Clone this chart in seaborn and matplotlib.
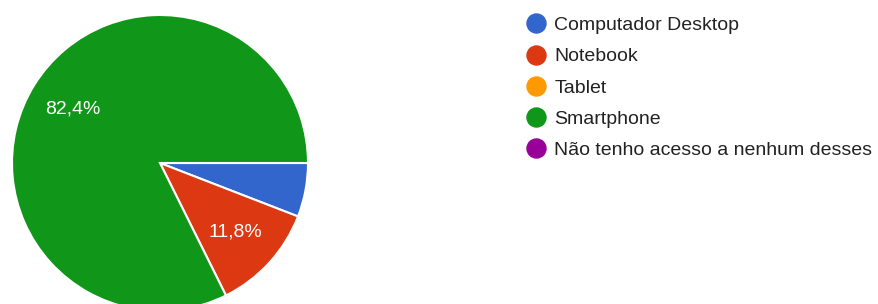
import matplotlib
matplotlib.use("Agg")
import matplotlib.pyplot as plt
import seaborn as sns
from matplotlib.lines import Line2D

categories = ["Computador Desktop", "Notebook", "Tablet", "Smartphone",
              "Não tenho acesso a nenhum desses"]
responses = [1, 2, 0, 14, 0]
colors = ["#3366cc", "#dc3912", "#ff9900", "#109618", "#990099"]

sns.set_theme(style="white")
plt.rcParams["font.family"] = ["Liberation Sans", "DejaVu Sans"]

W, H = 879, 304
fig = plt.figure(figsize=(W / 100, H / 100), dpi=100)

# pie: centre (160, 163) px, radius 148 px
cx, cy, r = 160, 163, 148
ax = fig.add_axes([(cx - r) / W, (H - cy - r) / H, 2 * r / W, 2 * r / H])

vals = [v for v in responses if v > 0]
cols = [c for v, c in zip(responses, colors) if v > 0]


def fmt(pct):
    if pct < 10:
        return ""
    return f"{pct:.1f}".replace(".", ",") + "%"


wedges, texts, autotexts = ax.pie(
    vals, colors=cols, startangle=0, counterclock=False,
    autopct=fmt, pctdistance=0.69, radius=1,
    wedgeprops=dict(edgecolor="white", linewidth=1.5),
    textprops=dict(color="white", fontsize=14),
)
ax.set_xlim(-1, 1)
ax.set_ylim(-1, 1)
ax.set_aspect("equal")
ax.axis("off")

handles = [Line2D([], [], marker="o", linestyle="", markersize=13.7,
                  markerfacecolor=c, markeredgecolor=c) for c in colors]
fig.legend(handles, categories, loc="upper left",
           bbox_to_anchor=(526.3 / W, 1 - 16.5 / H), frameon=False,
           fontsize=14, borderpad=0, borderaxespad=0, handlelength=1.0,
           handletextpad=0.45, labelspacing=0.70, labelcolor="#222222")

fig.savefig("out.png", dpi=100, facecolor="white")
